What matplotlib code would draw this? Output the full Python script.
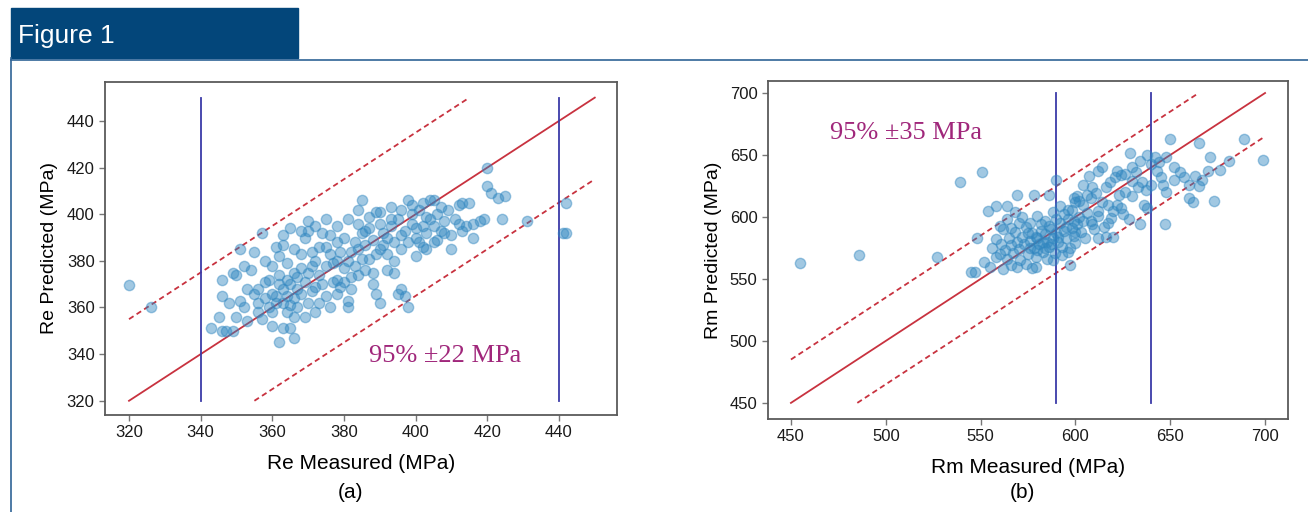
import matplotlib
matplotlib.use("Agg")
import matplotlib.pyplot as plt
from matplotlib.patches import Rectangle
from matplotlib.lines import Line2D

# ---- data: panel (a) Re
re_meas = [320, 326, 343, 346, 347, 349, 345, 346, 346, 349, 350, 351, 352, 353, 354, 355, 356, 357,
           358, 359, 352, 348, 350, 355, 357, 360, 362, 363, 361, 362, 360, 362, 363, 364, 365, 365,
           366, 363, 364, 366, 367, 368, 369, 370, 370, 371, 372, 373, 374, 375, 376, 377, 378, 379,
           380, 381, 381, 382, 383, 384, 385, 386, 387, 388, 389, 390, 389, 391, 392, 393, 394, 395,
           396, 397, 398, 398, 399, 400, 401, 402, 403, 404, 405, 406, 407, 408, 409, 410, 411, 412,
           413, 415, 414, 416, 418, 420, 420, 421, 423, 424, 425, 431, 441, 442, 442,
           356, 358, 359, 360, 361, 362, 363, 364, 365, 365, 366, 367, 367, 368, 368, 369, 370, 370,
           371, 371, 372, 373, 373, 374, 375, 375, 376, 377, 378, 378, 379, 380, 380, 381, 382, 383,
           384, 385, 385, 386, 387, 388, 389, 390, 390, 391, 392, 393, 394, 395, 396, 396, 397, 398,
           399, 400, 401, 402, 403, 404, 405, 406, 407, 408, 392, 394, 386, 388, 384, 382, 378, 376,
           372, 369, 366, 364, 360, 356, 353, 351, 358, 361, 363, 366, 368, 372, 375, 378, 381, 384,
           387, 390, 393, 396, 399, 402, 400, 403, 410, 413, 412, 416, 419, 405]
re_pred = [369.5, 360, 351, 350, 350, 350, 356, 365, 372, 375, 374, 385, 360, 354, 376, 384, 358, 392,
           371, 360, 378, 362, 356, 366, 355, 352, 345, 351, 365, 370, 378, 382, 387, 379, 394, 351,
           347, 362, 372, 375, 368, 383, 390, 397, 393, 378, 369, 362, 392, 386, 391, 379, 372, 369,
           377, 363, 360, 384, 388, 396, 406, 393, 381, 375, 366, 362, 401, 387, 390, 403, 380, 366,
           368, 365, 360, 406, 396, 390, 388, 395, 399, 406, 406, 400, 393, 397, 402, 391, 398, 404,
           405, 405, 395, 390, 397, 420, 412, 409, 407, 398, 408, 397, 392, 392, 405,
           368, 364, 372, 366, 362, 374, 368, 365, 361, 370, 364, 373, 360, 366, 377, 371, 362, 375,
           367, 384, 380, 374, 386, 370, 378, 365, 383, 371, 388, 380, 384, 390, 371, 380, 373, 378,
           385, 381, 392, 387, 394, 389, 383, 396, 385, 392, 383, 395, 388, 398, 391, 385, 393, 388,
           400, 394, 402, 386, 392, 398, 395, 389, 403, 392, 376, 375, 376, 370, 374, 368, 366, 360,
           358, 356, 356, 358, 358, 362, 368, 363, 380, 386, 391, 385, 393, 395, 398, 395, 398, 402,
           399, 401, 398, 402, 404, 405, 382, 385, 385, 393, 396, 396, 398, 388]

# ---- data: panel (b) Rm
rm_meas = [455, 486, 527, 539, 551, 545, 547, 552, 548, 554, 558, 564, 569, 578, 586, 590, 577, 569, 597,
           614, 629, 632, 650, 665, 689, 699, 647, 660, 673, 671, 681, 665, 663, 655, 652, 644, 645,
           646, 648, 642, 648, 637, 638, 628, 623, 624, 620, 621, 616, 620, 630,
           612, 607, 604, 601, 599, 609, 616, 617, 622, 619, 615, 609, 604, 600, 612, 625, 634, 636,
           633, 630, 624,
           556, 558, 560, 561, 562, 563, 564, 565, 566, 567, 568, 569, 570, 571, 572, 573, 574, 575,
           576, 577, 578, 579, 580, 581, 582, 583, 584, 585, 586, 587, 588, 589, 590, 591, 592, 593,
           594, 595, 596, 597, 598, 599, 600, 601, 602, 603, 605, 606, 608, 610, 612, 614, 560, 564,
           568, 572, 576, 580, 584, 588, 592, 596, 600, 604, 608, 611, 574, 579, 585, 588, 593, 596,
           555, 558, 566, 570, 582, 586, 590, 594, 598, 602, 606, 587, 583, 579, 575, 591, 595, 599,
           562, 566, 580, 576, 584,
           618, 622, 626, 630, 634, 638, 640, 643, 626, 617, 612, 635, 640, 652, 657, 660, 667, 670,
           676, 662]
rm_pred = [563, 569, 568, 628, 636, 556, 556, 564, 583, 605, 609, 609, 618, 618, 618, 630, 559, 560, 561,
           640, 652, 636, 663, 660, 663, 646, 594, 615, 613, 648, 645, 625, 633, 636, 630, 644, 632,
           626, 620, 648, 648, 622, 607, 598, 618, 607, 605, 632, 584, 584, 617,
           637, 633, 626, 617, 615, 624, 624, 610, 610, 599, 592, 594, 597, 588, 601, 602, 594, 610,
           624, 629, 634,
           575, 582, 570, 578, 590, 573, 566, 583, 577, 571, 588, 580, 574, 565, 584, 578, 592, 570,
           581, 587, 575, 568, 583, 578, 594, 572, 586, 580, 576, 590, 583, 571, 587, 580, 595, 576,
           589, 583, 598, 575, 591, 585, 579, 594, 600, 588, 583, 603, 597, 590, 605, 612, 593, 598,
           604, 600, 595, 601, 597, 604, 609, 606, 612, 610, 615, 619, 562, 560, 566, 565, 569, 572,
           560, 568, 591, 595, 589, 593, 598, 602, 606, 613, 618, 578, 580, 584, 587, 584, 592, 597,
           558, 561, 573, 575, 575,
           628, 637, 635, 640, 645, 650, 643, 637, 620, 595, 583, 628, 626, 640, 632, 626, 630, 637,
           638, 612]

re_limits = [320, 450]
rm_limits = [450, 700]
re_band = 35
rm_band = 35
re_vlines = [340, 440]
rm_vlines = [590, 640]

red = "#c8323f"
blue_line = "#3b3aa8"
pt_color = "#2f86c0"
txt_color = "#a0277b"
sans = ["Liberation Sans", "DejaVu Sans"]

fig = plt.figure(figsize=(13.08, 5.12), dpi=100)

# frame and banner
fig.patches.append(Rectangle((11 / 1308, 1 - 58 / 512), 287 / 1308, 50 / 512,
                             transform=fig.transFigure, color="#03467a", zorder=0))
fig.add_artist(Line2D([11 / 1308, 1], [1 - 59.5 / 512] * 2, transform=fig.transFigure,
                      color="#2f6496", lw=1.2))
fig.add_artist(Line2D([11 / 1308] * 2, [0, 1 - 58 / 512], transform=fig.transFigure,
                      color="#2f6496", lw=1.2))
fig.text(18 / 1308, 1 - 36 / 512, "Figure 1", color="white", fontsize=19,
         family=sans, va="center", ha="left")


def panel(rect, xm, yp, lims, band, vlines, xlim, ylim, ticks, xlabel, ylabel, note, note_xy,
          tag, tag_x):
    ax = fig.add_axes(rect)
    lo, hi = lims
    ax.plot([lo, hi], [lo, hi], color=red, lw=1.3, zorder=2)
    ax.plot([lo, hi - band], [lo + band, hi], color=red, lw=1.3, ls=(0, (3, 2)), zorder=2)
    ax.plot([lo + band, hi], [lo, hi - band], color=red, lw=1.3, ls=(0, (3, 2)), zorder=2)
    for v in vlines:
        ax.plot([v, v], [lo, hi], color=blue_line, lw=1.3, zorder=2)
    ax.scatter(xm, yp, s=55, color=pt_color, alpha=0.45, edgecolors=pt_color,
               linewidths=1.0, zorder=3)
    ax.set_xlim(xlim)
    ax.set_ylim(ylim)
    ax.set_xticks(ticks)
    ax.set_yticks(ticks)
    for s in ax.spines.values():
        s.set_color("#5a5a5a")
        s.set_linewidth(1.3)
    ax.tick_params(direction="out", length=4, width=1, color="#777777",
                   labelsize=12, labelcolor="#1a1a1a")
    for lab in ax.get_xticklabels() + ax.get_yticklabels():
        lab.set_family(sans)
    ax.set_ylabel(ylabel, fontsize=14, family=sans, labelpad=6)
    ax.set_xlabel(xlabel, fontsize=15, family=sans, labelpad=10)
    ax.text(note_xy[0], note_xy[1], note, color=txt_color, fontsize=19,
            family=["Liberation Serif", "DejaVu Serif"], va="center", ha="left")
    fig.text(tag_x / 1308, 1 - 493 / 512, tag, fontsize=15, family=sans,
             ha="center", va="center")
    return ax


panel([105 / 1308, 1 - 415 / 512, 512 / 1308, 333 / 512], re_meas, re_pred, re_limits, re_band,
      re_vlines, (313.3, 456.2), (313.9, 456.7), [320, 340, 360, 380, 400, 420, 440],
      "Re Measured (MPa)", "Re Predicted (MPa)", "95% \u00b122 MPa", (387, 339), "(a)", 350)
panel([768 / 1308, 1 - 419 / 512, 520 / 1308, 338 / 512], rm_meas, rm_pred, rm_limits, rm_band,
      rm_vlines, (437.9, 712.1), (437, 709.7), [450, 500, 550, 600, 650, 700],
      "Rm Measured (MPa)", "Rm Predicted (MPa)", "95% \u00b135 MPa", (470.6, 667.7), "(b)", 1022)

fig.savefig("out.png", dpi=100)
